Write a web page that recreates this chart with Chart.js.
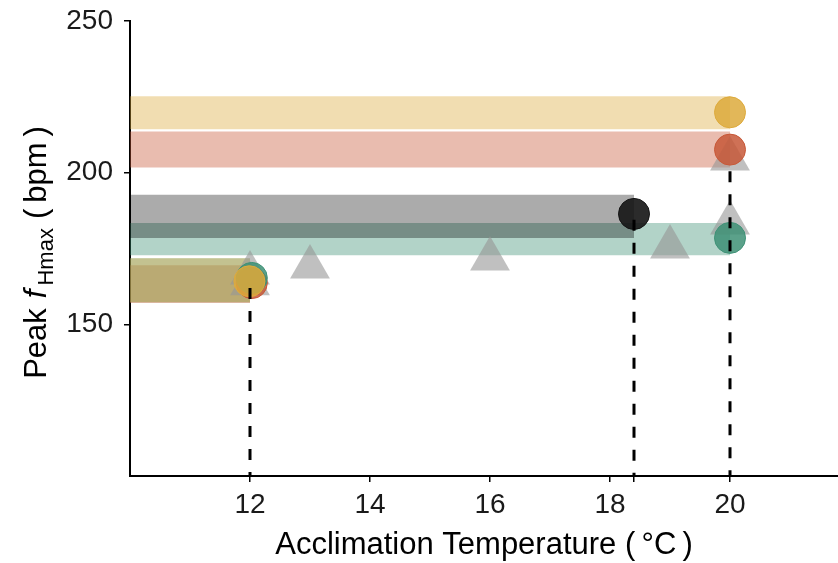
<!DOCTYPE html>
<html>
<head>
<meta charset="utf-8">
<script src="https://cdn.jsdelivr.net/npm/chart.js@4.4.1/dist/chart.umd.min.js"></script>
<style>
  html, body { margin: 0; padding: 0; background: #fff; }
  canvas { display: block; }
</style>
</head>
<body>
<canvas id="chart" width="838" height="563"></canvas>
<script>
const FONT = "'Liberation Sans', Arial, Helvetica, sans-serif";

// axes
const xRange = [10, 21.8];
const yRange = [100, 250];
const xTicks = [12, 14, 16, 18, 18.4, 20];
const xTickLabels = ["12", "14", "16", "18", "", "20"];
const yTicks = [150, 200, 250];

// shaded bands (bottom layer first): lower edge, upper edge, temperature where the band stops
const bandColors = ["green", "grey", "red", "yellow", "red", "green", "yellow"];
const bandLow  = [172.8, 178.5, 201.7, 214.3, 157.0, 157.3, 157.3];
const bandHigh = [183.4, 192.7, 213.6, 225.2, 169.5, 171.8, 171.8];
const bandEnd  = [20, 18.4, 20, 20, 12, 12, 12];

// grey triangles
const triX = [12, 12, 13, 16, 19, 20, 20];
const triY = [166.9, 163.4, 168.9, 171.5, 175.5, 183.4, 204.5];

// circles per colour
const redX = [12.03, 20];
const redY = [163.6, 207.6];
const greenX = [12.03, 20];
const greenY = [165.3, 178.5];
const yellowX = [11.99, 20];
const yellowY = [164.2, 219.9];
const blackX = [18.4];
const blackY = [186.4];

// dashed drop lines down to the x axis
const dropX = [12, 18.4, 20];
const dropTop = [162, 184.5, 200.5];

const RGB = {
    yellow: [221, 170, 60],
    red: [199, 88, 56],
    green: [62, 145, 118],
    black: [20, 20, 20],
    grey: [0, 0, 0]
};
const rgba = (name, a) => `rgba(${RGB[name].join(",")},${a})`;
const pts = (xs, ys) => xs.map((x, i) => ({ x, y: ys[i] }));

const layers = [];

// each band = upper edge filled down to the lower edge right after it
bandColors.forEach((c, i) => {
    const fillColor = c === "grey" ? rgba(c, 0.33) : rgba(c, 0.4);
    layers.push({
        type: "line",
        data: [{ x: xRange[0], y: bandHigh[i] }, { x: bandEnd[i], y: bandHigh[i] }],
        borderWidth: 0,
        pointRadius: 0,
        backgroundColor: fillColor,
        fill: "+1"
    });
    layers.push({
        type: "line",
        data: [{ x: xRange[0], y: bandLow[i] }, { x: bandEnd[i], y: bandLow[i] }],
        borderWidth: 0,
        pointRadius: 0,
        fill: false
    });
});

layers.push({
    type: "scatter",
    data: pts(triX, triY),
    pointStyle: "triangle",
    pointRadius: 23,
    backgroundColor: "rgba(150,150,150,0.6)",
    borderWidth: 0
});

const circles = [["red", redX, redY], ["green", greenX, greenY], ["yellow", yellowX, yellowY], ["black", blackX, blackY]];
circles.forEach(([c, xs, ys]) => {
    layers.push({
        type: "scatter",
        data: pts(xs, ys),
        pointRadius: 15.5,
        backgroundColor: rgba(c, c === "black" ? 0.9 : 0.85),
        borderColor: rgba(c, 1),
        borderWidth: 1
    });
});

dropX.forEach((x, i) => {
    layers.push({
        type: "line",
        data: [{ x, y: dropTop[i] }, { x, y: yRange[0] }],
        borderColor: "#000",
        borderWidth: 3,
        borderDash: [11, 12],
        pointRadius: 0,
        fill: false
    });
});

// later layers sit on top
layers.forEach((d, i) => { d.order = layers.length - i; });

// y title with italic f and subscript, spaced like plotmath
const yTitle = {
    id: "yTitle",
    afterDraw(chart) {
        const { ctx, chartArea } = chart;
        const parts = [
            { text: "Peak", font: `31px ${FONT}`, dy: 0, gap: 10 },
            { text: "f", font: `italic 31px ${FONT}`, dy: 0, gap: 4 },
            { text: "Hmax", font: `22px ${FONT}`, dy: 7, gap: 9 },
            { text: "(", font: `31px ${FONT}`, dy: 0, gap: 6 },
            { text: "bpm", font: `31px ${FONT}`, dy: 0, gap: 6 },
            { text: ")", font: `31px ${FONT}`, dy: 0, gap: 0 }
        ];
        ctx.save();
        let total = 0;
        parts.forEach(p => {
            ctx.font = p.font;
            p.w = ctx.measureText(p.text).width;
            total += p.w + p.gap;
        });
        ctx.translate(46, (chartArea.top + chartArea.bottom) / 2 + 4);
        ctx.rotate(-Math.PI / 2);
        ctx.fillStyle = "#000";
        ctx.textBaseline = "alphabetic";
        let x = -total / 2;
        parts.forEach(p => {
            ctx.font = p.font;
            ctx.fillText(p.text, x, p.dy);
            x += p.w + p.gap;
        });
        ctx.restore();
    }
};

new Chart(document.getElementById("chart"), {
    type: "scatter",
    data: { datasets: layers },
    plugins: [yTitle],
    options: {
        responsive: false,
        animation: false,
        devicePixelRatio: 1,
        layout: { autoPadding: false, padding: { top: 21, right: 0, left: 0, bottom: 0 } },
        plugins: {
            legend: { display: false },
            tooltip: { enabled: false }
        },
        scales: {
            x: {
                type: "linear",
                min: xRange[0],
                max: xRange[1],
                afterBuildTicks: axis => { axis.ticks = xTicks.map(v => ({ value: v })); },
                afterFit: axis => {
                    axis.height = 87;
                    axis.paddingLeft = 0;
                    axis.paddingRight = 0;
                },
                ticks: {
                    autoSkip: false,
                    maxRotation: 0,
                    padding: 6,
                    color: "#1a1a1a",
                    font: { family: FONT, size: 28 },
                    callback: v => xTickLabels[xTicks.indexOf(v)]
                },
                grid: { drawOnChartArea: false, tickLength: 6, color: "#000", lineWidth: 1.5 },
                border: { color: "#000", width: 2 },
                title: {
                    display: true,
                    text: "Acclimation Temperature (\u2009°C\u2009)",
                    color: "#000",
                    font: { family: FONT, size: 31, lineHeight: 1 },
                    padding: { top: 0, bottom: 2 }
                }
            },
            y: {
                type: "linear",
                min: yRange[0],
                max: yRange[1],
                afterBuildTicks: axis => { axis.ticks = yTicks.map(v => ({ value: v })); },
                afterFit: axis => {
                    axis.width = 130;
                    axis.paddingTop = 0;
                    axis.paddingBottom = 0;
                },
                ticks: {
                    padding: 11,
                    color: "#1a1a1a",
                    font: { family: FONT, size: 28 }
                },
                grid: { drawOnChartArea: false, tickLength: 6, color: "#000", lineWidth: 1.5 },
                border: { color: "#000", width: 2 }
            }
        }
    }
});
</script>
</body>
</html>
